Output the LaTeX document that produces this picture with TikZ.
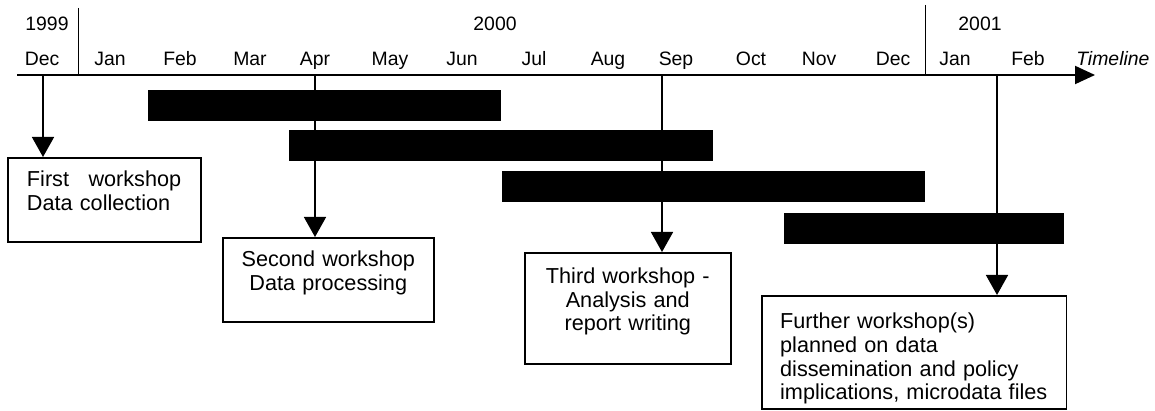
\documentclass[tikz,border=0pt]{standalone}
\usepackage{fontspec}
\setmainfont{Liberation Sans}
\usepackage{tikz}
\usetikzlibrary{positioning}
\usetikzlibrary{arrows.meta}
\colorlet{barc}{black}
\colorlet{boxc}{black}
\newcommand{\wsgap}{\rule{0pt}{20pt}}

\begin{document}
\begin{tikzpicture}[scale=1.0,
month/.style={anchor=base,inner sep=0pt,font=\fontsize{13.8}{16}\selectfont},
bar/.style={anchor=south west,fill=barc,shape=rectangle,inner sep=0pt,minimum height=0.78cm},
wsbox/.style={anchor=north west,draw=boxc,line width=1.1pt,shape=rectangle,inner xsep=0.2cm,inner ysep=0cm,font=\fontsize{15.4}{16.6}\selectfont},
drop/.style={line width=1.1pt,-{Triangle[length=0.5cm,width=0.55cm]}},
yearline/.style={line width=0.6pt}]
\useasboundingbox (0cm,0cm) rectangle (28.875cm,10.25cm);

\coordinate (axisstart) at (0.425cm,8.375cm);
\coordinate (axisend) at (27.375cm,8.375cm);
\coordinate (sep1top) at (1.95cm,10.05cm);
\coordinate (sep2top) at (23.125cm,10.125cm);
\coordinate (drop1) at (1.075cm,8.375cm);
\coordinate (drop2) at (7.875cm,8.375cm);
\coordinate (drop3) at (16.55cm,8.375cm);
\coordinate (drop4) at (24.925cm,8.375cm);

\node[month] (y1999) at (1.175cm,9.475cm) {1999};
\node[month] (y2000) at (12.375cm,9.475cm) {2000};
\node[month] (y2001) at (24.5cm,9.475cm) {2001};

\node[month] (mdec99) at (1.05cm,8.6cm) {Dec};
\node[month] (mjan) at (2.75cm,8.6cm) {Jan};
\node[month] (mfeb) at (4.5cm,8.6cm) {Feb};
\node[month] (mmar) at (6.25cm,8.6cm) {Mar};
\node[month] (mapr) at (7.875cm,8.6cm) {Apr};
\node[month] (mmay) at (9.75cm,8.6cm) {May};
\node[month] (mjun) at (11.55cm,8.6cm) {Jun};
\node[month] (mjul) at (13.35cm,8.6cm) {Jul};
\node[month] (maug) at (15.2cm,8.6cm) {Aug};
\node[month] (msep) at (16.9cm,8.6cm) {Sep};
\node[month] (moct) at (18.775cm,8.6cm) {Oct};
\node[month] (mnov) at (20.475cm,8.6cm) {Nov};
\node[month] (mdec) at (22.325cm,8.6cm) {Dec};
\node[month] (mjan01) at (23.875cm,8.6cm) {Jan};
\node[month] (mfeb01) at (25.7cm,8.6cm) {Feb};
\node[month,anchor=base west] (timeline) at (26.9cm,8.6cm) {\itshape Timeline};

\draw[yearline] (sep1top) -- (sep1top |- axisstart);
\draw[yearline] (sep2top) -- (sep2top |- axisstart);
\draw[line width=1.4pt,-{Triangle[length=0.5cm,width=0.45cm]}] (axisstart) -- (axisend);

\node[bar,minimum width=8.825cm] (bar1) at (3.7cm,7.225cm) {};
\node[bar,minimum width=10.6cm] (bar2) at (7.225cm,6.225cm) {};
\node[bar,minimum width=10.575cm] (bar3) at (12.55cm,5.2cm) {};
\node[bar,minimum width=7.0cm] (bar4) at (19.6cm,4.15cm) {};

\node[wsbox,inner xsep=0.48cm,text width=3.865cm,align=left,minimum height=2.1cm]
(box1) at (0.175cm,6.325cm) {\wsgap First\hspace{0.9em}workshop\\Data collection\\\strut};
\node[wsbox,text width=4.875cm,align=center,minimum height=2.1cm]
(box2) at (5.55cm,4.325cm) {\wsgap Second workshop\\Data processing\\\strut};
\node[wsbox,text width=4.75cm,align=center,minimum height=2.775cm]
(box3) at (13.1cm,3.95cm) {\wsgap Third workshop -\\Analysis and\\report writing\\\strut};
\node[wsbox,inner xsep=0.46cm,text width=6.7cm,align=left,minimum height=2.825cm,font=\fontsize{15.4}{17}\selectfont]
(box4) at (19.025cm,2.875cm) {\wsgap Further workshop(s)\\planned on data\\dissemination and policy\\implications, microdata files};

\draw[drop] (drop1) -- (drop1 |- box1.north);
\draw[drop] (drop2) -- (drop2 |- box2.north);
\draw[drop] (drop3) -- (drop3 |- box3.north);
\draw[drop] (drop4) -- (drop4 |- box4.north);

\end{tikzpicture}
\end{document}
